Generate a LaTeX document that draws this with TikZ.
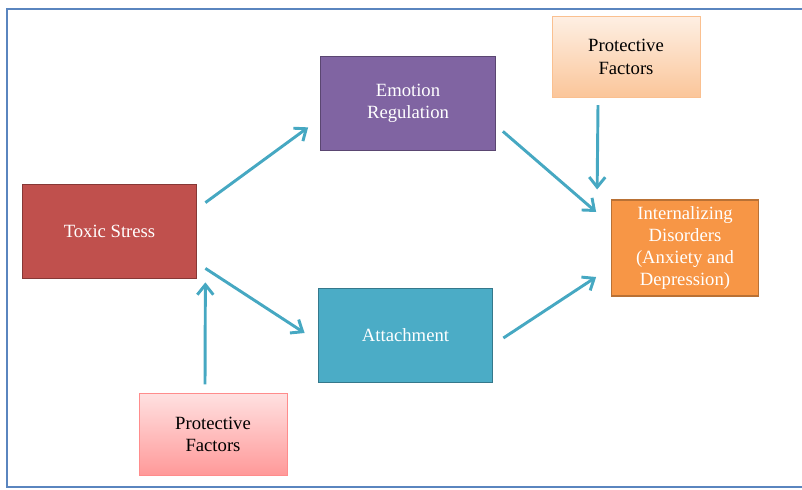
\documentclass[tikz,border=0pt]{standalone}
\usepackage{fontspec}
\setmainfont{Liberation Serif}
\usetikzlibrary{arrows.meta, positioning, calc}

\definecolor{stressred}{HTML}{C0504D}
\definecolor{emopurple}{HTML}{8064A2}
\definecolor{attteal}{HTML}{4BACC6}
\definecolor{intorange}{HTML}{F79646}
\definecolor{arrowteal}{HTML}{46A8C2}
\definecolor{frameblue}{HTML}{5A85BF}

\begin{document}
\begin{tikzpicture}[
  x=0.75pt, y=-0.75pt,
  every node/.style={font=\fontsize{14}{16.8}\selectfont},
  box/.style={rectangle, align=center, text=white, line width=0.8pt,
              minimum width=131pt, minimum height=71pt},
  pbox/.style={rectangle, align=center, text=black, line width=0.6pt,
               minimum width=111pt, minimum height=61pt},
  arrow/.style={-{Straight Barb[length=7.5pt, width=12pt]}, line width=2.2pt, arrowteal},
]
\useasboundingbox (0,0) rectangle (802,489);

% Frame
\draw[frameblue, line width=1.9pt] (7,9) rectangle (812,487);

% Left
\node[box, fill=stressred, draw=stressred!70!black] (ts) at (109.5,231.5) {Toxic Stress};
\node[pbox, top color=red!12, bottom color=red!40, draw=red!45] (pb) at (213,434.5) {Protective\\Factors};

% Middle
\node[box, fill=emopurple, draw=emopurple!70!black] (er) at (408,103.5) {Emotion\\Regulation};
\node[box, fill=attteal, draw=attteal!70!black] (at) at (405.5,335.5) {Attachment};

% Right
\node[pbox, top color=intorange!15, bottom color=intorange!55, draw=intorange!60] (pt) at (626,57) {Protective\\Factors};
\node[box, fill=intorange, draw=intorange!75!black, minimum width=110pt, minimum height=72pt,
      font=\fontsize{14}{16.3}\selectfont]
  (id) at (685,248) {Internalizing\\Disorders\\(Anxiety and\\Depression)};

% Arrows
\draw[arrow] ($(ts.north east)+(8,19)$) -- ($(er.south west)+(-12,-24)$);
\draw[arrow] ($(ts.south east)+(8,-11)$) -- ($(at.west)+(-13,-2.5)$);
\draw[arrow] ($(er.south east)+(7,-20)$) -- ($(id.west)+(-15,-36)$);
\draw[arrow] ($(at.east)+(10,2.5)$) -- ($(id.west)+(-15,29)$);
\draw[arrow] ($(pt.south)+(-28,7)$) -- ($(id.north west)+(-14,-10)$);
\draw[arrow] ($(pb.north)+(-8,-9)$) -- ($(ts.south east)+(8,3)$);

\end{tikzpicture}
\end{document}
